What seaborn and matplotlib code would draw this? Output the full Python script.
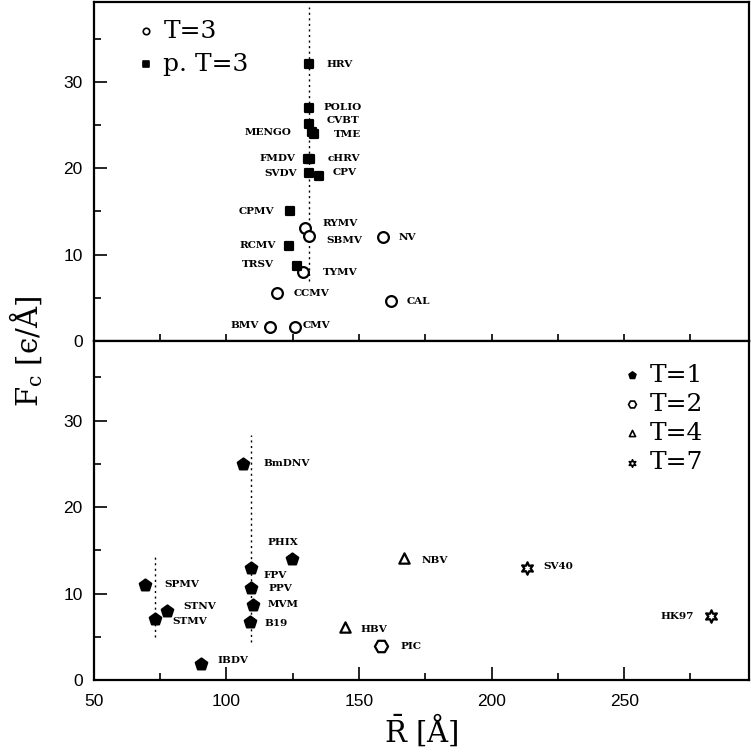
import matplotlib
matplotlib.use("Agg")
import matplotlib.pyplot as plt
import seaborn as sns
import pandas as pd

# upper panel: T=3 capsids (open circles) and pseudo T=3 (filled squares)
t3_names = ["RYMV", "SBMV", "NV", "TYMV", "CCMV", "CAL", "BMV", "CMV"]
t3_R = [129.6, 131.1, 159, 128.9, 119, 162, 116.4, 125.8]
t3_F = [13.1, 12.1, 12.0, 8.0, 5.5, 4.6, 1.6, 1.6]

pt3_names = ["HRV", "POLIO", "CVBT", "MENGO", "TME", "FMDV", "cHRV", "SVDV", "CPV",
             "CPMV", "RCMV", "TRSV"]
pt3_R = [131.1, 131.1, 131.0, 132.2, 133.2, 130.6, 131.6, 131.0, 134.9, 124.0, 123.6, 126.6]
pt3_F = [32.0, 27.0, 25.1, 24.2, 24.0, 21.1, 21.1, 19.5, 19.1, 15.0, 11.0, 8.7]

# lower panel
t1_names = ["BmDNV", "PHIX", "FPV", "SPMV", "PPV", "MVM", "STNV", "STMV", "B19", "IBDV"]
t1_R = [106.2, 124.7, 109.2, 69.3, 109.2, 110.0, 77.5, 73.0, 108.9, 90.4]
t1_F = [25.0, 14.0, 13.0, 11.0, 10.6, 8.7, 8.0, 7.0, 6.7, 1.8]

t2_names = ["PIC"]
t2_R = [158.3]
t2_F = [3.9]

t4_names = ["NBV", "HBV"]
t4_R = [167.0, 144.7]
t4_F = [14.1, 6.1]

t7_names = ["SV40", "HK97"]
t7_R = [213.4, 282.8]
t7_F = [12.9, 7.4]

# dotted guide lines (x, ymin, ymax)
guide_up = [(131.1, 7.0, 38.6)]
guide_low = [(109.2, 4.4, 28.3), (73.0, 5.0, 14.2)]

# label offsets in pixels (dx, dy, ha)
offs = {
    "HRV": (18, 0, "left"), "POLIO": (15, 0, "left"), "CVBT": (18, 4, "left"),
    "TME": (19, -1, "left"), "MENGO": (-20, -1, "right"), "FMDV": (-12, 0, "right"),
    "cHRV": (17, 0, "left"), "SVDV": (-12, -1, "right"), "CPV": (14, 3, "left"),
    "CPMV": (-16, 0, "right"), "RYMV": (18, 4, "left"), "SBMV": (17, -4, "left"),
    "RCMV": (-13, 0, "right"), "TRSV": (-23, 1, "right"), "TYMV": (20, -1, "left"),
    "NV": (16, 0, "left"), "CCMV": (17, 0, "left"), "CAL": (16, 0, "left"),
    "BMV": (-11, 2, "right"), "CMV": (8, 2, "left"),
    "BmDNV": (21, 0, "left"), "PHIX": (-9, 16, "center"), "FPV": (13, -8, "left"),
    "PPV": (18, 0, "left"), "MVM": (15, 0, "left"), "B19": (14, -1, "left"),
    "SPMV": (19, 0, "left"), "STNV": (17, 4, "left"), "STMV": (18, -2, "left"),
    "IBDV": (16, 4, "left"), "NBV": (18, -2, "left"), "HBV": (16, -2, "left"),
    "PIC": (19, 0, "left"), "SV40": (16, 2, "left"), "HK97": (-17, 0, "right"),
}

serif = "DejaVu Serif"
plt.rcParams["mathtext.fontset"] = "dejavuserif"
plt.rcParams["font.family"] = ["Liberation Sans", "DejaVu Sans"]

fig = plt.figure(figsize=(7.51, 7.52), dpi=100)
ax1 = fig.add_axes([0.125, 0.5465, 0.872, 0.4505])
ax2 = fig.add_axes([0.125, 0.0957, 0.872, 0.4508], sharex=ax1)


def group(ax, names, R, F, marker, face, size, label):
    df = pd.DataFrame({"R": R, "F": F, "name": names})
    sns.scatterplot(data=df, x="R", y="F", marker=marker, s=size, color=face,
                    edgecolor="black", linewidth=1.6, ax=ax, label=label, zorder=3)
    for n, x, y in zip(names, R, F):
        dx, dy, ha = offs[n]
        ax.annotate(n, (x, y), xytext=(dx * 0.72, dy * 0.72), textcoords="offset points",
                    ha=ha, va="center", fontsize=7.5, family=serif, fontweight="bold")


group(ax1, t3_names, t3_R, t3_F, "o", "white", 60, "T=3")
group(ax1, pt3_names, pt3_R, pt3_F, "s", "black", 40, "p. T=3")
group(ax2, t1_names, t1_R, t1_F, "p", "black", 75, "T=1")
group(ax2, t2_names, t2_R, t2_F, "H", "white", 90, "T=2")
group(ax2, t4_names, t4_R, t4_F, "^", "white", 55, "T=4")
group(ax2, t7_names, t7_R, t7_F, (6, 1, 0), "white", 80, "T=7")

for ax, guides in [(ax1, guide_up), (ax2, guide_low)]:
    for gx, y0, y1 in guides:
        ax.vlines(gx, y0, y1, colors="black", linestyles=(0, (1.5, 2.5)), linewidth=1)

for ax in (ax1, ax2):
    ax.set_xlim(50, 297)
    ax.set_ylim(0, 39.2)
    ax.set_xticks([50, 100, 150, 200, 250])
    ax.set_xticks([75, 125, 175, 225, 275], minor=True)
    ax.set_yticks([0, 10, 20, 30])
    ax.set_yticks([5, 15, 25, 35], minor=True)
    ax.tick_params(which="both", direction="in", right=False, top=False, width=1.2,
                   labelsize=12.5)
    ax.tick_params(which="major", length=9.5)
    ax.tick_params(which="minor", length=4.8)
    ax.tick_params(axis="x", pad=10)
    ax.tick_params(axis="y", pad=8)
    for s in ax.spines.values():
        s.set_linewidth(1.6)
    ax.set_ylabel("")
    up = ax is ax1
    leg = ax.legend(frameon=False, prop={"family": serif, "size": 18},
                    markerscale=0.6, handletextpad=0.1, handlelength=1.2,
                    labelspacing=0.4 if up else 0.25,
                    loc="upper left" if up else "upper right",
                    bbox_to_anchor=(0.022, 1.015) if up else (0.965, 1.0))
    for h in leg.legend_handles:
        h.set_linewidth(1.2)

ax1.tick_params(axis="x", which="major", length=4.8, labelbottom=False)
ax1.set_xlabel("")
ax2.set_xlabel(r"$\bar{\mathrm{R}}$ [Å]", fontsize=21, family=serif, labelpad=2)
fig.text(0.035, 0.533, r"$\mathrm{F_c}$ [ϵ/Å]", rotation=90, fontsize=21,
         family=serif, ha="center", va="center")

fig.savefig("out.png", dpi=100)
